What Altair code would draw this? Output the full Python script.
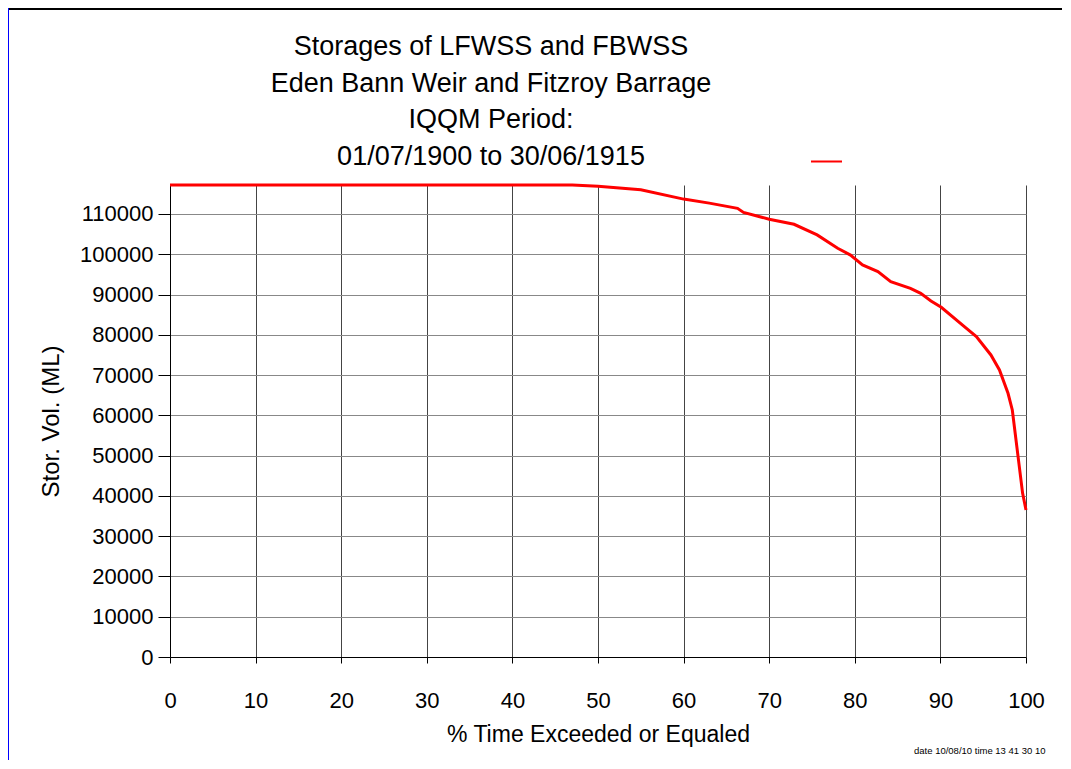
import altair as alt
import pandas as pd

# % time exceeded or equalled
pct_time = [0, 10, 20, 30, 40, 47, 50, 55, 60, 63, 66.3, 67, 70, 72.9, 75.6, 78,
            79.5, 80.9, 82.7, 84.2, 86.5, 87.7, 88.9, 90.1, 92.8, 94.2, 95.9,
            96.9, 97.9, 98.4, 99.6, 100]
# storage volume (ML)
stor_vol = [117200, 117200, 117200, 117200, 117200, 117200, 116900, 116000,
            113700, 112700, 111400, 110400, 108700, 107450, 104800, 101500,
            99800, 97340, 95680, 93200, 91550, 90300, 88400, 86840, 82020,
            79540, 75000, 71270, 65480, 61340, 40700, 36500]
series = [" "] * len(pct_time)

title_lines = ["Storages of LFWSS and FBWSS", "Eden Bann Weir and Fitzroy Barrage",
               "IQQM Period:", "01/07/1900 to 30/06/1915"]
footer = ["date 10/08/10  time 13 41  30 10"]
x_ticks = [0, 10, 20, 30, 40, 50, 60, 70, 80, 90, 100]
y_ticks = [0, 10000, 20000, 30000, 40000, 50000, 60000, 70000, 80000, 90000,
           100000, 110000]

FONT = "Liberation Sans, Arial, sans-serif"

df = pd.DataFrame({"pct": pct_time, "vol": stor_vol, "series": series})

line = alt.Chart(df).mark_line(strokeWidth=3, color="red").encode(
    x=alt.X("pct:Q", scale=alt.Scale(domain=[0, 100], nice=False),
            axis=alt.Axis(values=x_ticks, title="% Time Exceeded or Equaled",
                          grid=True, gridColor="#444444", tickSize=6,
                          labelPadding=27, labelFontSize=22, labelFlush=False,
                          titleFontSize=23, titlePadding=12)),
    y=alt.Y("vol:Q", scale=alt.Scale(domain=[0, 117200], nice=False),
            axis=alt.Axis(values=y_ticks, format="d", title="Stor. Vol. (ML)",
                          grid=True, gridColor="#888888", tickSize=12,
                          labelPadding=5, labelFontSize=22, labelFlush=False,
                          titleFontSize=24, titlePadding=16)),
    color=alt.Color("series:N", scale=alt.Scale(range=["red"]),
                    legend=alt.Legend(orient="none", legendX=640, legendY=-40,
                                      title=None, symbolType="stroke",
                                      symbolSize=961, symbolStrokeWidth=2,
                                      labelFontSize=1, padding=0)),
)

title_layers = []
baselines = [-130, -93, -57, -20]
for txt, b in zip(title_lines, baselines):
    title_layers.append(
        alt.Chart(pd.DataFrame({"t": [txt]})).mark_text(
            font=FONT, fontSize=27, align="center", baseline="alphabetic",
            color="black"
        ).encode(x=alt.value(321), y=alt.value(b), text="t:N")
    )

foot = alt.Chart(pd.DataFrame({"t": footer})).mark_text(
    font=FONT, fontSize=9.5, align="left", baseline="middle", color="black"
).encode(x=alt.value(744), y=alt.value(566), text="t:N")

frame_top = alt.Chart(pd.DataFrame({"k": [0]})).mark_rule(color="black", strokeWidth=2).encode(
    x=alt.value(-162), x2=alt.value(856 + 36), y=alt.value(-176))
frame_left = alt.Chart(pd.DataFrame({"k": [0]})).mark_rule(color="blue", strokeWidth=1).encode(
    x=alt.value(-161.5), y=alt.value(-177), y2=alt.value(600))

chart = alt.layer(frame_top, frame_left, line, foot, *title_layers).properties(
    width=856, height=472,
    autosize=alt.AutoSizeParams(type="none"),
    padding={"left": 162, "top": 177, "right": 36, "bottom": 103},
).configure_axis(
    labelFont=FONT, titleFont=FONT,
    titleFontWeight="normal", labelColor="black", titleColor="black",
    domainColor="black", tickColor="black", gridOpacity=1,
).configure_view(stroke=None).configure_legend(labelFont=FONT)

chart.save("out.html", embed_options={"renderer": "svg", "actions": False})
